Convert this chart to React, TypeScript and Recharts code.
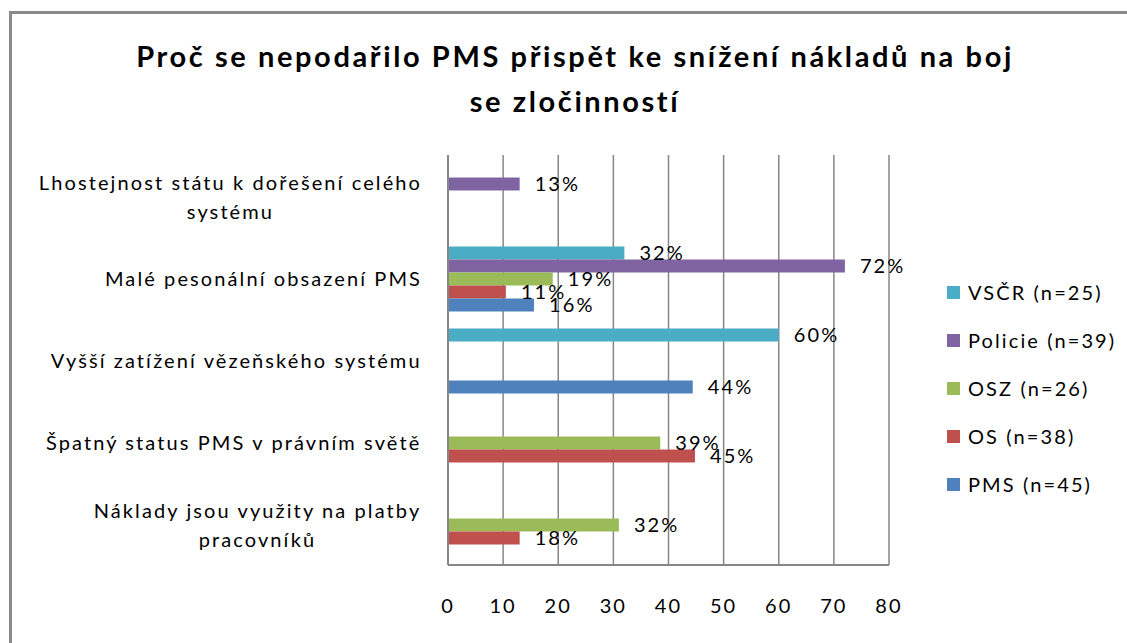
import React from "react";
import { BarChart, Bar, XAxis, YAxis, CartesianGrid, Legend, LabelList } from "recharts";

const categories = [
  "Lhostejnost státu k dořešení celého\nsystému",
  "Malé pesonální obsazení PMS",
  "Vyšší zatížení vězeňského systému",
  "Špatný status PMS v právním světě",
  "Náklady jsou využity na platby\npracovníků",
];

// bar lengths as drawn, and the labels printed next to them
const vscr = [null, 32, 60, null, null];
const vscrLabels = ["", "32%", "60%", "", ""];
const policie = [13, 72, null, null, null];
const policieLabels = ["13%", "72%", "", "", ""];
const osz = [null, 19, null, 38.5, 31];
const oszLabels = ["", "19%", "", "39%", "32%"];
const os = [null, 10.5, null, 44.8, 13];
const osLabels = ["", "11%", "", "45%", "18%"];
const pms = [null, 15.6, 44.4, null, null];
const pmsLabels = ["", "16%", "44%", "", ""];

const xTicks = [0, 10, 20, 30, 40, 50, 60, 70, 80];

const series = [
  { key: "vscr", name: "VSČR (n=25)", color: "#4BACC6" },
  { key: "policie", name: "Policie (n=39)", color: "#8064A2" },
  { key: "osz", name: "OSZ (n=26)", color: "#9BBB59" },
  { key: "os", name: "OS (n=38)", color: "#C0504D" },
  { key: "pms", name: "PMS (n=45)", color: "#4F81BD" },
];

const data = categories.map((c, i) => ({
  cat: c,
  vscr: vscr[i],
  vscrLabel: vscrLabels[i],
  policie: policie[i],
  policieLabel: policieLabels[i],
  osz: osz[i],
  oszLabel: oszLabels[i],
  os: os[i],
  osLabel: osLabels[i],
  pms: pms[i],
  pmsLabel: pmsLabels[i],
}));

const FONT = "Lato, 'Open Sans', sans-serif";
const LS = 2.1; // the original text is rendered quite loosely spaced

let ctx: CanvasRenderingContext2D | null = null;
function measure(text: string) {
  if (!ctx) ctx = document.createElement("canvas").getContext("2d");
  if (!ctx) return text.length * 11;
  ctx.font = "20px Lato";
  return ctx.measureText(text).width + LS * text.length;
}

function CategoryTick(props: any) {
  const { x, y, payload } = props;
  const lines: string[] = String(payload.value).split("\n");
  const maxW = Math.max(...lines.map(measure));
  const cx = x - maxW / 2;
  const lh = 29;
  const y0 = y - ((lines.length - 1) * lh) / 2;
  return (
    <g>
      {lines.map((l, i) => (
        <text
          key={i}
          x={cx + LS / 2}
          y={y0 + i * lh}
          textAnchor="middle"
          dominantBaseline="central"
          fontSize={20}
          fontFamily={FONT}
          fill="#000"
          style={{ letterSpacing: LS }}
        >
          {l}
        </text>
      ))}
    </g>
  );
}

function LegendBox() {
  return (
    <div style={{ fontFamily: FONT, fontSize: 20, color: "#000", letterSpacing: LS }}>
      {series.map((s) => (
        <div key={s.key} style={{ display: "flex", alignItems: "center", height: 48 }}>
          <span style={{ width: 13, height: 13, background: s.color, marginRight: 8, display: "inline-block" }} />
          <span>{s.name}</span>
        </div>
      ))}
    </div>
  );
}

export default function App() {
  return (
    <div style={{ position: "absolute", left: 0, top: 0, width: 1127, height: 643, background: "#fff", overflow: "hidden" }}>
      <div style={{ position: "absolute", left: 9, top: 11, width: 1140, height: 660, border: "3px solid #8a8a8a" }} />
      <div
        style={{
          position: "absolute",
          left: 0,
          top: 33,
          width: 1150,
          textAlign: "center",
          fontFamily: FONT,
          fontWeight: 700,
          fontSize: 29,
          lineHeight: "45px",
          letterSpacing: 2.6,
          color: "#000",
        }}
      >
        Proč se nepodařilo PMS přispět ke snížení nákladů na boj
        <br />
        se zločinností
      </div>
      <div style={{ position: "absolute", left: 0, top: 0 }}>
        <BarChart
          width={1127}
          height={643}
          data={data}
          layout="vertical"
          margin={{ top: 155, right: 238, bottom: 0, left: 0 }}
          barCategoryGap="11.5%"
          barGap={0}
        >
          <CartesianGrid horizontal={false} stroke="#868686" strokeWidth={1.5} />
          <XAxis
            type="number"
            domain={[0, 80]}
            ticks={xTicks}
            height={78}
            tickLine={false}
            tickSize={0}
            tickMargin={34}
            axisLine={{ stroke: "#868686", strokeWidth: 2 }}
            tick={{ fontSize: 20, fontFamily: FONT, fill: "#000", style: { letterSpacing: LS } }}
          />
          <YAxis
            type="category"
            dataKey="cat"
            width={448}
            tickLine={false}
            tickSize={0}
            tickMargin={27}
            axisLine={{ stroke: "#868686", strokeWidth: 2 }}
            tick={<CategoryTick />}
            interval={0}
          />
          <Legend
            layout="horizontal"
            align="center"
            verticalAlign="middle"
            content={<LegendBox />}
            wrapperStyle={{ left: 947, top: 268, width: 180 }}
          />
          {series.map((s) => (
            <Bar key={s.key} dataKey={s.key} name={s.name} fill={s.color} isAnimationActive={false}>
              <LabelList
                dataKey={s.key + "Label"}
                position="right"
                offset={15}
                fontSize={20}
                fontFamily={FONT}
                fill="#000"
                style={{ letterSpacing: LS }}
              />
            </Bar>
          ))}
        </BarChart>
      </div>
    </div>
  );
}
